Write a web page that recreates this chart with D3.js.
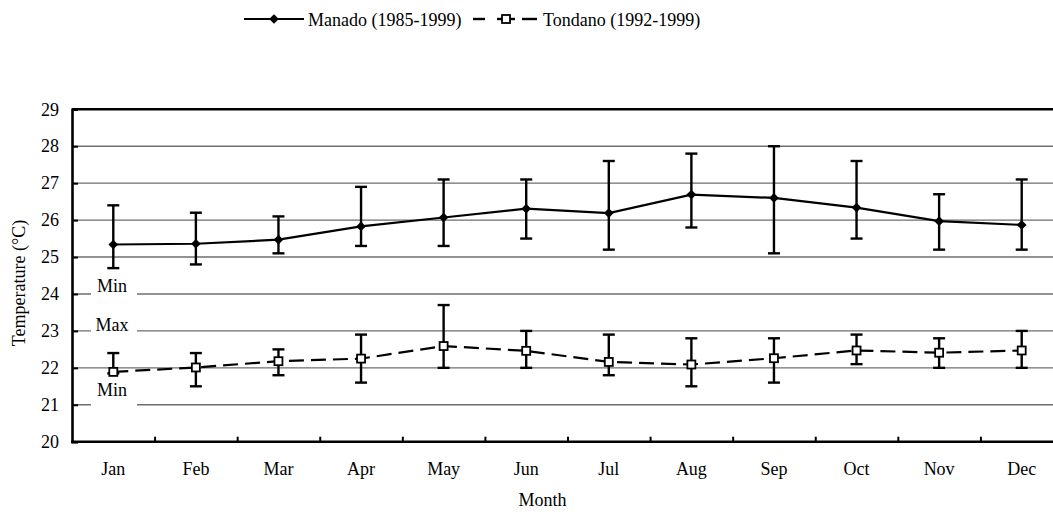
<!DOCTYPE html>
<html>
<head>
<meta charset="utf-8">
<script src="https://cdn.jsdelivr.net/npm/d3@7"></script>
<style>
  body { margin: 0; background: #fff; }
  svg text { font-family: "Liberation Serif", "Times New Roman", Times, "DejaVu Serif", serif !important; fill: #000; }
</style>
</head>
<body>
<div id="chart"></div>
<script>
// Data.
var months = ["Jan", "Feb", "Mar", "Apr", "May", "Jun", "Jul", "Aug", "Sep", "Oct", "Nov", "Dec"];

var manadoMean = [25.34, 25.36, 25.47, 25.83, 26.07, 26.31, 26.19, 26.69, 26.60, 26.34, 25.97, 25.87];
var manadoMax  = [26.4, 26.2, 26.1, 26.9, 27.1, 27.1, 27.6, 27.8, 28.0, 27.6, 26.7, 27.1];
var manadoMin  = [24.7, 24.8, 25.1, 25.3, 25.3, 25.5, 25.2, 25.8, 25.1, 25.5, 25.2, 25.2];

var tondanoMean = [21.89, 22.01, 22.18, 22.25, 22.59, 22.46, 22.16, 22.09, 22.26, 22.47, 22.41, 22.47];
var tondanoMax  = [22.4, 22.4, 22.5, 22.9, 23.7, 23.0, 22.9, 22.8, 22.8, 22.9, 22.8, 23.0];
var tondanoMin  = [21.85, 21.5, 21.8, 21.6, 22.0, 22.0, 21.8, 21.5, 21.6, 22.1, 22.0, 22.0];

var yTicks = [20, 21, 22, 23, 24, 25, 26, 27, 28, 29];

var legendLabels = ["Manado (1985-1999)", "Tondano (1992-1999)"];
var axisTitles = { x: "Month", y: "Temperature (°C)" };

// Side notes drawn over the grid near the left axis (text, level).
var notes = [["Min", 24], ["Max", 23], ["Min", 21]];

(function draw() {
    var W = 1053, H = 512;
    var left = 72, right = 1063, top = 109.3, bottom = 441.7;
    var fs = 18;

    var svg = d3.select("#chart").append("svg")
        .attr("width", W)
        .attr("height", H);

    svg.append("rect").attr("width", W).attr("height", H).attr("fill", "#fff");

    var x = d3.scaleBand().domain(months).range([left, right]);
    var xb = d3.scaleLinear().domain([0, months.length]).range([left, right]);
    var y = d3.scaleLinear().domain([20, 29]).range([bottom, top]);

    var cx = function(i) { return x(months[i]) + x.bandwidth() / 2; };

    // Gridlines.
    svg.append("g")
        .selectAll("line")
        .data(yTicks.filter(v => v > 20 && v < 29))
        .enter().append("line")
        .attr("x1", left).attr("x2", W)
        .attr("y1", d => y(d)).attr("y2", d => y(d))
        .attr("stroke", "#6e6e6e")
        .attr("stroke-width", 1.4);

    // Top frame line.
    svg.append("line")
        .attr("x1", left).attr("x2", W)
        .attr("y1", y(29)).attr("y2", y(29))
        .attr("stroke", "#000").attr("stroke-width", 2.4);

    // Side notes with white boxes that cut the grid.
    var ng = svg.append("g");
    notes.forEach(function(n) {
        var base = n[0] === "Max" ? y(n[1]) : y(n[1]) - 2;
        if (n[1] === 21) base = y(n[1]) - 9;
        ng.append("rect")
            .attr("x", 91).attr("y", base - 14)
            .attr("width", 46).attr("height", n[1] === 21 ? 25 : 20)
            .attr("fill", "#fff");
        ng.append("text")
            .attr("x", 112).attr("y", base)
            .attr("text-anchor", "middle")
            .attr("font-size", fs)
            .text(n[0]);
    });

    // Left axis.
    var ya = svg.append("g")
        .attr("transform", "translate(" + left + ",0)")
        .call(d3.axisLeft(y).tickValues(yTicks).tickSize(-6).tickPadding(13).tickFormat(d3.format("d")));
    ya.select(".domain").attr("stroke", "#000").attr("stroke-width", 2.6);
    ya.selectAll(".tick line").attr("stroke", "#000").attr("stroke-width", 2);
    ya.selectAll("text").attr("font-size", fs);

    // Bottom axis: tick marks at band edges, labels in bands.
    var xt = svg.append("g")
        .attr("transform", "translate(0," + bottom + ")")
        .call(d3.axisBottom(xb).tickValues(d3.range(1, months.length + 1)).tickSize(-5).tickFormat(""));
    xt.select(".domain").remove();
    xt.selectAll(".tick line").attr("stroke", "#000").attr("stroke-width", 2);
    svg.append("line")
        .attr("x1", left - 1).attr("x2", W)
        .attr("y1", bottom).attr("y2", bottom)
        .attr("stroke", "#000").attr("stroke-width", 2.6);

    var xa = svg.append("g")
        .attr("transform", "translate(0," + bottom + ")")
        .call(d3.axisBottom(x).tickSize(0).tickPadding(21));
    xa.select(".domain").remove();
    xa.selectAll("text").attr("font-size", fs);

    // Axis titles.
    svg.append("text")
        .attr("x", (left + right) / 2 - 25).attr("y", 506)
        .attr("text-anchor", "middle").attr("font-size", fs)
        .text(axisTitles.x);
    svg.append("text")
        .attr("transform", "translate(25,283) rotate(-90)")
        .attr("text-anchor", "middle").attr("font-size", fs)
        .text(axisTitles.y);

    // Error bars.
    function errorBars(lo, hi) {
        var g = svg.append("g").attr("stroke", "#000").attr("stroke-width", 2.4);
        months.forEach(function(m, i) {
            g.append("line").attr("x1", cx(i)).attr("x2", cx(i))
                .attr("y1", y(lo[i])).attr("y2", y(hi[i]));
            [lo[i], hi[i]].forEach(function(v) {
                g.append("line").attr("x1", cx(i) - 6).attr("x2", cx(i) + 6)
                    .attr("y1", y(v)).attr("y2", y(v));
            });
        });
    }
    errorBars(manadoMin, manadoMax);
    errorBars(tondanoMin, tondanoMax);

    var line = d3.line().x((d, i) => cx(i)).y(d => y(d));

    svg.append("path").datum(manadoMean)
        .attr("d", line).attr("fill", "none")
        .attr("stroke", "#000").attr("stroke-width", 2.2);
    svg.append("path").datum(tondanoMean)
        .attr("d", line).attr("fill", "none")
        .attr("stroke", "#000").attr("stroke-width", 2.2)
        .attr("stroke-dasharray", "15,7");

    var diamond = d3.symbol().type(d3.symbolDiamond2).size(60);
    svg.append("g").selectAll("path")
        .data(manadoMean).enter().append("path")
        .attr("d", diamond)
        .attr("transform", (d, i) => "translate(" + cx(i) + "," + y(d) + ")")
        .attr("fill", "#000");

    svg.append("g").selectAll("rect")
        .data(tondanoMean).enter().append("rect")
        .attr("x", (d, i) => cx(i) - 4).attr("y", d => y(d) - 4)
        .attr("width", 8).attr("height", 8)
        .attr("fill", "#fff").attr("stroke", "#000").attr("stroke-width", 1.8);

    // Legend.
    var ly = 19;
    var lg = svg.append("g");
    lg.append("line").attr("x1", 244).attr("x2", 304).attr("y1", ly).attr("y2", ly)
        .attr("stroke", "#000").attr("stroke-width", 2.2);
    lg.append("path").attr("d", diamond).attr("transform", "translate(274," + ly + ")").attr("fill", "#000");
    lg.append("text").attr("x", 308).attr("y", 25.5).attr("font-size", fs).text(legendLabels[0]);

    [[473, 485], [497, 515], [522, 537]].forEach(function(s) {
        lg.append("line").attr("x1", s[0]).attr("x2", s[1]).attr("y1", ly).attr("y2", ly)
            .attr("stroke", "#000").attr("stroke-width", 2.4);
    });
    lg.append("rect").attr("x", 502).attr("y", ly - 4).attr("width", 8).attr("height", 8)
        .attr("fill", "#fff").attr("stroke", "#000").attr("stroke-width", 1.8);
    lg.append("text").attr("x", 543).attr("y", 25.5).attr("font-size", fs).text(legendLabels[1]);
})();
</script>
</body>
</html>
